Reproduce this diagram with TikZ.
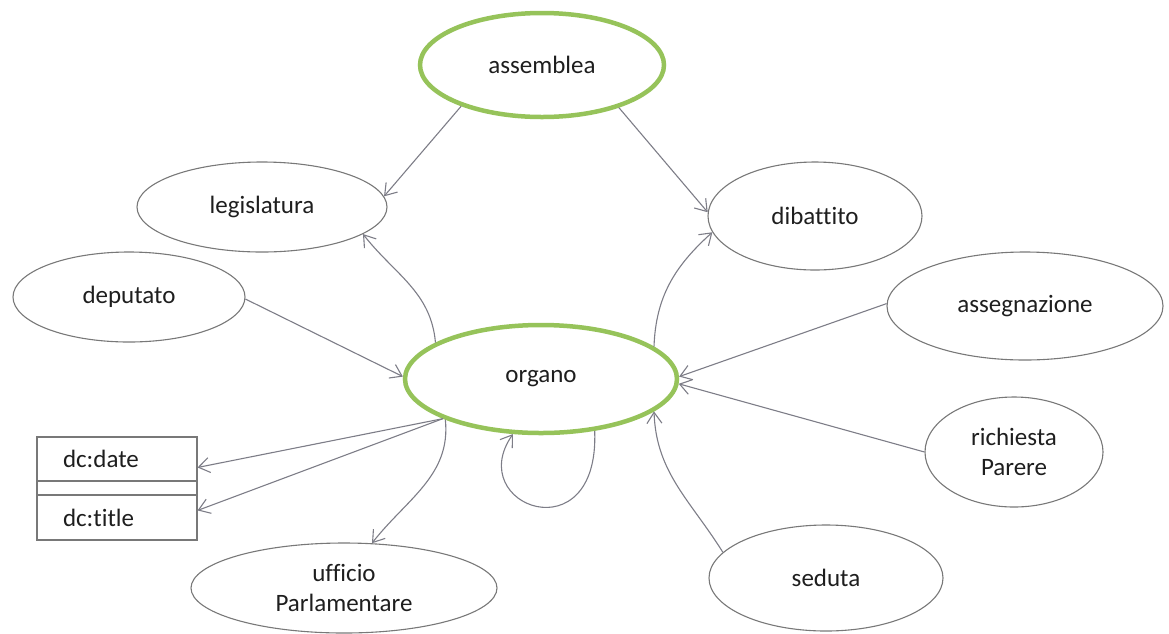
\documentclass[tikz,border=0pt]{standalone}
\usepackage{fontspec}
\setmainfont{Carlito}[Ligatures=NoCommon]
\usetikzlibrary{shapes.geometric,arrows.meta}
\definecolor{ellgray}{RGB}{120,120,120}
\definecolor{linegray}{RGB}{125,125,135}
\definecolor{greenline}{RGB}{150,195,90}
\definecolor{txt}{RGB}{30,30,30}
\begin{document}
\begin{tikzpicture}[x=1pt,y=1pt,
  ell/.style={ellipse, draw=ellgray, line width=1.1pt, inner sep=0pt, align=center,
    font=\fontsize{25}{30}\selectfont, text=txt},
  mainell/.style={ell, draw=greenline, line width=4.5pt},
  conn/.style={draw=linegray, line width=1.1pt,
    -{Straight Barb[length=11pt,width=15pt,line width=1.1pt]}},
  boxpart/.style={draw=ellgray, line width=1.1pt, rectangle, inner ysep=0pt,
    inner xsep=26pt, text width=108pt, align=left,
    font=\fontsize{25}{30}\selectfont, text=txt}]
\useasboundingbox (0,0) rectangle (1169,-633);

% nodes
\node[mainell, minimum width=244pt, minimum height=104pt] (assemblea) at (542,-65) {assemblea};
\node[mainell, minimum width=272pt, minimum height=108pt] (organo) at (541,-379) {organo};
\node[ell, minimum width=250pt, minimum height=90pt] (legislatura) at (262,-207) {legislatura};
\node[ell, minimum width=214pt, minimum height=108pt] (dibattito) at (815,-216) {dibattito};
\node[ell, minimum width=232pt, minimum height=90pt] (deputato) at (129,-297) {deputato};
\node[ell, minimum width=276pt, minimum height=108pt] (assegnazione) at (1025,-306) {assegnazione};
\node[ell, minimum width=178pt, minimum height=110pt] (richiesta) at (1014,-452) {richiesta\\Parere};
\node[ell, minimum width=234pt, minimum height=106pt] (seduta) at (826,-578) {seduta};
\node[ell, minimum width=306pt, minimum height=90pt] (ufficio) at (344,-588) {ufficio\\Parlamentare};

\node[boxpart, minimum height=44pt] (date) at (117,-459) {dc:date};
\node[boxpart, minimum height=14pt] (mid) at (117,-488) {};
\node[boxpart, minimum height=45pt] (title) at (117,-517.5) {dc:title};

% connectors
\draw[conn] (assemblea.207) -- (legislatura.5);
\draw[conn] (assemblea.-29) -- (dibattito.178);
\draw[conn] (organo.161) to[out=95, in=-52] (legislatura.-15);
\draw[conn] (organo.16) to[out=88, in=222] (dibattito.189);
\draw[conn] (deputato.-1.5) -- (organo.179);
\draw[conn] (assegnazione.179) -- (organo.1);
\draw[conn] (richiesta.180) -- (organo.-2);
\draw[conn] (seduta.166) to[out=122, in=-88] (organo.-16);
\draw[conn] (organo.202) -- (date.-6);
\draw[conn] (organo.202) -- (title.5);
\draw[conn] (organo.203) to[out=-84, in=52] (ufficio.58);
\draw[conn] (organo.-44) .. controls +(5,-125) and +(-50,-72) .. (organo.-117);
\end{tikzpicture}
\end{document}
